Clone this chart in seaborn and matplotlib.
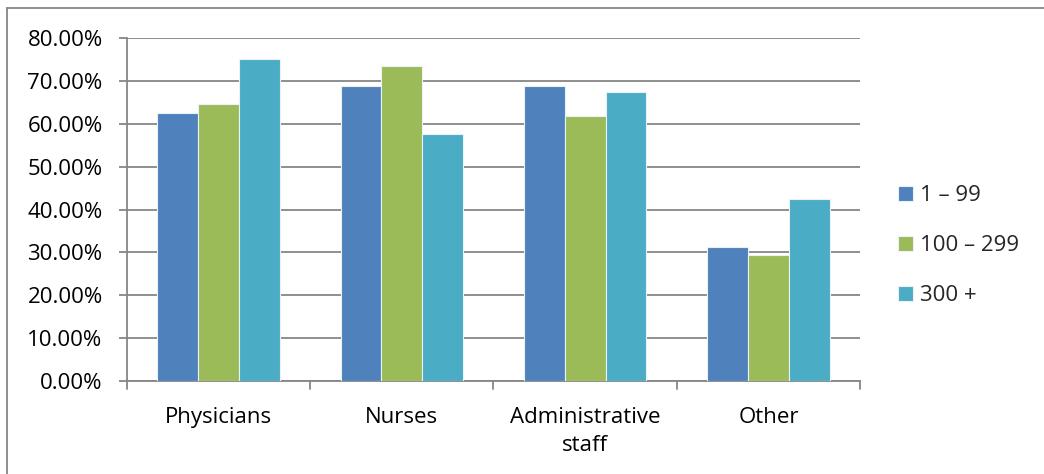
import matplotlib
matplotlib.use("Agg")
import matplotlib.pyplot as plt
import numpy as np
import pandas as pd
import seaborn as sns
from matplotlib.lines import Line2D
from matplotlib.ticker import FixedLocator, PercentFormatter

categories = ["Physicians", "Nurses", "Administrative\nstaff", "Other"]
groups = ["1 \u2013 99", "100 \u2013 299", "300 +"]
small = [62.5, 68.75, 68.75, 31.25]
medium = [64.7, 73.5, 61.8, 29.4]
large = [75.0, 57.5, 67.5, 42.5]
colors = ["#4F81BD", "#9BBB59", "#4BACC6"]

df = pd.DataFrame({
    "category": categories * 3,
    "size": [g for g in groups for _ in categories],
    "value": small + medium + large,
})

sns.set_style("white")
plt.rcParams["font.family"] = ["Open Sans", "DejaVu Sans"]

fig = plt.figure(figsize=(10.44, 4.74), dpi=100)
ax = fig.add_axes([0.1216, 0.196, 0.7022, 0.724])

sns.barplot(data=df, x="category", y="value", hue="size", palette=colors,
            width=0.667, saturation=1, edgecolor="#EAF2F8", linewidth=0.8,
            ax=ax, zorder=3)

grid_c = "#868686"
fs = 16
ax.set_ylim(0, 80)
ax.set_xlim(-0.5, len(categories) - 0.5)
ax.yaxis.set_major_locator(FixedLocator(np.arange(0, 81, 10)))
ax.yaxis.set_major_formatter(PercentFormatter(decimals=2))
ax.grid(axis="y", color=grid_c, linewidth=1.3, zorder=0)
ax.set_axisbelow(True)

for side in ["top", "right"]:
    ax.spines[side].set_visible(False)
for side in ["left", "bottom"]:
    ax.spines[side].set_color(grid_c)
    ax.spines[side].set_linewidth(1.3)

ax.tick_params(axis="y", left=True, length=5.5, width=1.3, color=grid_c,
               labelsize=fs, pad=12, labelcolor="black")
ax.tick_params(axis="x", bottom=False, labelsize=fs, pad=15, labelcolor="black")
for lbl in ax.get_xticklabels():
    lbl.set_linespacing(1.45)

# category boundary ticks, Excel style
boundaries = np.arange(len(categories) + 1) - 0.5
for b in boundaries:
    ax.plot([b, b], [0, -0.024], transform=ax.get_xaxis_transform(),
            color=grid_c, lw=1.3, clip_on=False)

ax.set_xlabel("")
ax.set_ylabel("")

handles, labels = ax.get_legend_handles_labels()
ax.legend(handles, labels, loc="center left", bbox_to_anchor=(1.04, 0.395),
          frameon=False, fontsize=fs, handlelength=0.65, handleheight=0.65,
          handletextpad=0.35, labelspacing=1.3, borderaxespad=0)

# partial outer border (top and left visible)
fig.add_artist(Line2D([0.0065, 1.0], [0.983, 0.983], color=grid_c, lw=1.3,
                      transform=fig.transFigure))
fig.add_artist(Line2D([0.0065, 0.0065], [0.0, 0.983], color=grid_c, lw=1.3,
                      transform=fig.transFigure))

fig.savefig("out.png", dpi=100)
